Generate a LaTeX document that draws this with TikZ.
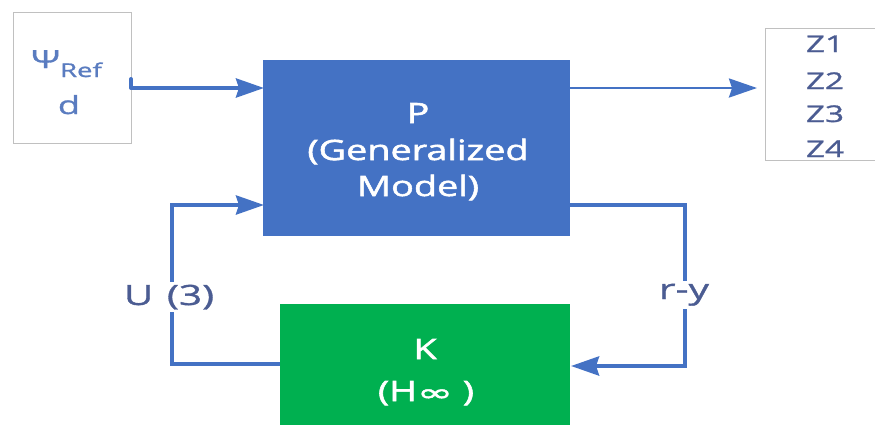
\documentclass[tikz,border=0pt]{standalone}
\usepackage{fontspec}
\setmainfont{Open Sans}
\newfontfamily\wide[FakeStretch=1.35,FakeBold=2]{Open Sans}
\newfontfamily\widel[FakeStretch=1.45,FakeBold=1.2]{Open Sans}
\newfontfamily\dejavu[FakeStretch=1.8,FakeBold=2]{DejaVu Sans}
\usetikzlibrary{arrows.meta}
\definecolor{pblue}{HTML}{4472C4}
\definecolor{kgreen}{HTML}{00B050}
\definecolor{lbl}{HTML}{4B5C92}
\definecolor{psi}{HTML}{5A7CC0}
\definecolor{frame}{HTML}{C0C0C0}
\tikzset{
  blk/.style={draw=none, inner sep=0pt, anchor=north west},
  wtxt/.style={text=white, anchor=base, inner sep=0pt, font=\wide\fontsize{28}{34}\selectfont},
  wire/.style={draw=pblue, line width=4pt},
  tip/.style={-{Stealth[length=28pt,width=19pt,inset=3pt]}},
  lab/.style={text=lbl, font=\widel\fontsize{28}{34}\selectfont, fill=white, inner sep=3pt, anchor=base},
  ztxt/.style={text=lbl, font=\widel\fontsize{23}{30}\selectfont, inner sep=0pt, anchor=base},
  sigbox/.style={draw=frame, line width=1pt, fill=white}
}
\begin{document}
\begin{tikzpicture}[x=1pt,y=-1pt]
\useasboundingbox (0,0) rectangle (875,424);
% blocks
\node[blk, fill=pblue, minimum width=307pt, minimum height=176pt] (P) at (263,60) {};
\node[wtxt] (p1) at (418,123) {P};
\node[wtxt] (p2) at (418,160) {(Generalized};
\node[wtxt] (p3) at (418,196) {Model)};
\node[blk, fill=kgreen, minimum width=290pt, minimum height=126pt] (K) at (280,304) {};
\node[wtxt] (k1) at (425,359) {K};
\node[wtxt] (k2) at (426,401) {(H{\dejavu\fontsize{24}{30}\selectfont ∞} )};
% input box
\draw[sigbox] (13,12) rectangle (131,143);
\node[text=psi, font=\widel\fontsize{25}{28}\selectfont, anchor=base west, inner sep=0pt] (psiN) at (31,68) {Ψ\raisebox{-9pt}{\fontsize{19}{20}\selectfont Ref}};
\node[text=psi, font=\widel\fontsize{25}{28}\selectfont, anchor=base, inner sep=0pt] (dN) at (69,114) {d};
\coordinate (inStart) at (131,79);
\coordinate (inCorner) at (131,88);
\coordinate (Pin) at (264,88);
\draw[wire, tip, line join=round, line cap=round] (inStart) -- (inCorner) -- (Pin);
% output box
\draw[sigbox] (765,28) rectangle (880,160);
\node[ztxt] (z1) at (825,52) {Z1};
\node[ztxt] (z2) at (825,89) {Z2};
\node[ztxt] (z3) at (825,122) {Z3};
\node[ztxt] (z4) at (825,157) {Z4};
\coordinate (Pout) at (570,88);
\coordinate (Zin) at (757,88);
\draw[draw=pblue, line width=2.5pt, tip] (Pout) -- (Zin);
% feedback right
\coordinate (Pr) at (570,205);
\coordinate (Kr) at (571,366);
\draw[wire, tip] (Pr) -- (685,205) -- (685,366) -- (Kr);
\node[lab] (ry) at (684,299) {r-y};
% feedback left
\coordinate (Kl) at (280,364);
\coordinate (Pl) at (264,205);
\draw[wire, tip] (Kl) -- (172,364) -- (172,205) -- (Pl);
\node[lab, inner xsep=1pt] (u) at (169,305) {U\hspace{3pt} (3)};
\end{tikzpicture}
\end{document}
